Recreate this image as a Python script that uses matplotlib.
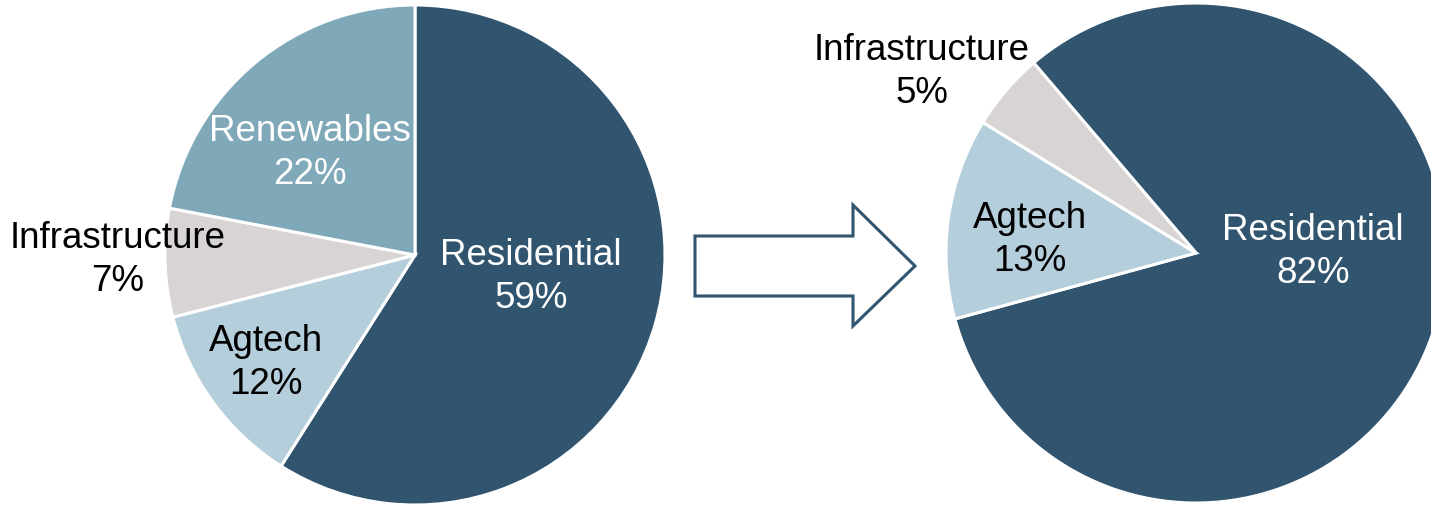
import matplotlib
matplotlib.use("Agg")
import matplotlib.pyplot as plt
from matplotlib.patches import Polygon

plt.rcParams['font.family'] = ['Liberation Sans', 'DejaVu Sans']

# Data
left_categories = ["Residential", "Agtech", "Infrastructure", "Renewables"]
left_values = [59, 12, 7, 22]
right_categories = ["Residential", "Agtech", "Infrastructure"]
right_values = [82, 13, 5]

colors = {
    "Residential": "#31546F",
    "Agtech": "#B5CEDB",
    "Infrastructure": "#D7D4D3",
    "Renewables": "#7FA8B9",
}
text_colors = {
    "Residential": "white",
    "Agtech": "black",
    "Infrastructure": "black",
    "Renewables": "white",
}

W, H = 1431, 506
fig = plt.figure(figsize=(W / 100, H / 100), dpi=100)
ax = fig.add_axes([0, 0, 1, 1])

def Y(y):
    return H - y

R = 250
wp = dict(edgecolor='white', linewidth=2.2)

ax.pie(left_values, colors=[colors[c] for c in left_categories],
       startangle=90, counterclock=False, radius=R, center=(415, Y(256)),
       wedgeprops=wp, frame=True)
ax.pie(right_values, colors=[colors[c] for c in right_categories],
       startangle=130.5, counterclock=False, radius=R, center=(1196, Y(254)),
       wedgeprops=wp, frame=True)
ax.set_xlim(0, W)
ax.set_ylim(0, H)
ax.set_aspect('equal')
ax.axis('off')

fs = 26.5
left_label_pos = {
    "Residential": (531, 277),
    "Agtech": (266, 363),
    "Infrastructure": (118, 260),
    "Renewables": (310, 153),
}
right_label_pos = {
    "Residential": (1313, 252),
    "Agtech": (1030, 240),
    "Infrastructure": (922, 72),
}
for cats, vals, pos in [(left_categories, left_values, left_label_pos),
                        (right_categories, right_values, right_label_pos)]:
    for c, v in zip(cats, vals):
        x, y = pos[c]
        ax.text(x, Y(y), f"{c}\n{v}%", ha='center', va='center',
                multialignment='center', fontsize=fs, color=text_colors[c],
                linespacing=1.26)

# Arrow
arrow_pts = [(695, 237), (853, 237), (853, 206), (915, 267),
             (853, 327), (853, 297), (695, 297)]
ax.add_patch(Polygon([(x, Y(y)) for x, y in arrow_pts], closed=True,
                     facecolor='white', edgecolor='#31546F', linewidth=2.2,
                     joinstyle='miter'))

fig.savefig("out.png", dpi=100)
